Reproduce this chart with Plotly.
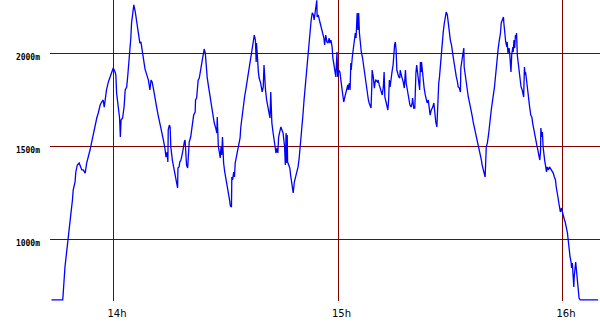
import plotly.graph_objects as go

# time in minutes since midnight, altitude in metres
minutes = [
    823.3, 826.3, 826.4, 826.6, 826.9, 827.2, 827.5, 827.8, 828.2, 828.5, 828.9, 829.1, 829.6, 829.8,
    830.2, 830.7, 831.1, 831.4, 831.8, 832.3, 832.7, 833.1, 833.6, 834.0, 834.5, 834.9, 835.4, 835.8,
    836.3, 836.7, 837.1, 837.4, 837.7, 838.0, 838.5, 838.9, 839.4, 839.8, 840.3, 840.5, 840.7, 841.0,
    841.3, 841.5, 841.7, 841.9, 842.3, 842.7, 843.0, 843.4, 843.7, 844.0, 844.3, 844.5, 844.7, 845.0,
    845.3, 845.7, 846.1, 846.4, 846.8, 846.9, 847.2, 847.5, 847.8, 848.3, 849.2, 849.6, 849.9, 850.2,
    850.6, 851.0, 851.4, 851.8, 852.3, 852.8, 853.2, 853.6, 853.9, 854.2, 854.4, 854.5, 854.8, 855.0,
    855.2, 855.6, 856.0, 856.3, 856.6, 856.8, 857.0, 857.1, 857.4, 857.6, 857.9, 858.3, 858.5, 858.8,
    859.0, 859.2, 859.4, 859.7, 859.9, 860.1, 860.5, 860.8, 861.0, 861.3, 861.7, 861.8, 862.1, 862.4,
    862.5, 862.8, 863.1, 863.4, 863.7, 864.0, 864.1, 864.4, 864.6, 864.9, 865.2, 865.6, 865.9, 866.3,
    866.5, 866.8, 867.2, 867.5, 867.6, 867.7, 867.9, 868.2, 868.4, 868.6, 868.8, 869.0, 869.1, 869.3,
    869.6, 869.9, 870.1, 870.4, 870.7, 870.9, 871.1, 871.4, 871.5, 871.7, 872.0, 872.2, 872.4, 872.8,
    873.1, 873.7, 873.9, 874.2, 874.6, 874.9, 875.3, 875.6, 876.0, 876.4, 876.7, 877.0, 877.2, 877.5,
    877.8, 878.0, 878.1, 878.3, 878.6, 878.8, 879.2, 879.6, 879.9, 880.1, 880.3, 880.5, 880.8, 881.2,
    881.5, 881.7, 881.9, 882.0, 882.2, 882.5, 882.8, 883.0, 883.3, 883.6, 883.8, 884.0, 884.3, 884.6,
    884.9, 885.2, 885.4, 885.6, 885.8, 886.0, 886.2, 886.3, 886.4, 886.7, 887.0, 887.2, 887.5, 887.8,
    887.9, 888.2, 888.5, 888.8, 889.2, 889.5, 889.7, 890.0, 890.3, 890.5, 890.8, 891.1, 891.3, 891.7,
    891.9, 892.2, 892.5, 892.7, 893.0, 893.3, 893.5, 893.7, 894.0, 894.2, 894.3, 894.6, 894.9, 895.1,
    895.4, 895.8, 896.1, 896.3, 896.6, 896.9, 897.2, 897.5, 897.7, 898.0, 898.3, 898.5, 898.8, 899.1,
    899.3, 899.6, 899.8, 900.1, 900.4, 900.7, 900.9, 901.1, 901.4, 901.7, 901.9, 902.2, 902.5, 902.6,
    902.9, 903.1, 903.3, 903.4, 903.7, 904.0, 904.2, 904.5, 904.7, 904.9, 905.0, 905.2, 905.4, 905.6,
    905.8, 906.1, 906.4, 906.6, 906.9, 907.2, 907.4, 907.7, 908.0, 908.2, 908.5, 908.7, 908.9, 909.0,
    909.3, 909.6, 909.8, 910.0, 910.4, 910.6, 910.9, 911.2, 911.4, 911.7, 912.0, 912.2, 912.4, 912.7,
    913.0, 913.2, 913.4, 913.6, 913.8, 914.0, 914.3, 914.6, 914.8, 915.0, 915.2, 915.4, 915.6, 915.8,
    916.1, 916.4, 916.5, 916.8, 917.1, 917.3, 917.6, 917.9, 918.1, 918.3, 918.6, 918.9, 919.1, 919.4,
    919.7, 919.8, 920.1, 920.4, 920.5, 920.7, 920.9, 921.2, 921.4, 921.7, 921.9, 922.1, 922.2, 922.4,
    922.7, 922.9, 923.2, 923.5, 923.7, 924.0, 924.2, 924.5, 924.8, 925.2, 925.5, 925.7, 926.0, 926.3,
    926.4, 926.6, 926.8, 927.0, 927.2, 927.5, 927.8, 928.0, 928.3, 928.6, 928.8, 929.1, 929.4, 929.6,
    929.9, 930.2, 930.4, 930.7, 931.0, 931.2, 931.5, 931.8, 932.0, 932.3, 932.6, 932.7, 932.9, 933.2,
    933.5, 933.6, 933.9, 934.2, 934.4, 934.7, 935.0, 935.2, 935.5, 935.8, 936.0, 936.3, 936.6, 936.8,
    937.1, 937.4, 937.6, 937.9, 938.2, 938.4, 938.7, 939.0, 939.2, 939.5, 939.8, 940.1, 940.3, 940.6,
    940.9, 941.1, 941.4, 941.7, 941.9, 942.2, 942.5, 942.7, 943.0, 943.3, 943.5, 943.8, 944.1, 944.2,
    944.4, 944.7, 945.0, 945.1, 945.3, 945.6, 945.8, 945.9, 946.1, 946.3, 946.6, 946.7, 946.9, 947.1,
    947.3, 947.5, 947.6, 947.8, 948.1, 948.3, 948.5, 948.8, 949.1, 949.3, 949.5, 949.7, 949.9, 950.0,
    950.2, 950.4, 950.6, 950.8, 951.1, 951.4, 951.7, 951.9, 952.2, 952.5, 952.7, 953.0, 953.3, 953.5,
    953.8, 954.0, 954.1, 954.3, 954.5, 954.7, 954.9, 955.1, 955.4, 955.6, 955.8, 956.1, 956.4, 956.6,
    956.9, 957.2, 957.4, 957.7, 958.0, 958.2, 958.5, 958.7, 958.9, 959.0, 959.3, 959.6, 959.8, 960.1,
    960.4, 960.6, 960.9, 961.2, 961.4, 961.6, 961.9, 962.2, 962.3, 962.5, 962.7, 962.9, 963.0, 963.2,
    963.4, 963.6, 963.8, 963.9, 964.1, 964.3, 964.6, 969.4,
]

altitude = [
    674, 674, 701, 797, 851, 905, 969, 1012, 1088, 1141, 1211, 1265, 1308, 1362,
    1399, 1410, 1389, 1373, 1373, 1356, 1410, 1437, 1480, 1518, 1571, 1614, 1652, 1679,
    1722, 1738, 1749, 1711, 1765, 1803, 1846, 1867, 1899, 1921, 1899, 1883, 1786, 1738,
    1711, 1652, 1550, 1641, 1652, 1711, 1803, 1819, 1883, 1948, 2007, 2082, 2163, 2222,
    2260, 2222, 2179, 2125, 2071, 2055, 2061, 2018, 2002, 1915, 1856, 1803, 1856, 1846,
    1803, 1765, 1711, 1668, 1625, 1577, 1534, 1491, 1442, 1469, 1416, 1588, 1614, 1604,
    1496, 1426, 1383, 1346, 1319, 1292, 1276, 1383, 1389, 1416, 1426, 1464, 1496, 1523,
    1534, 1453, 1399, 1383, 1518, 1523, 1550, 1598, 1631, 1668, 1684, 1749, 1760, 1813,
    1856, 1867, 1910, 1953, 1975, 2007, 2023, 2002, 1926, 1873, 1830, 1776, 1733, 1684,
    1652, 1625, 1598, 1571, 1657, 1550, 1496, 1464, 1437, 1496, 1453, 1550, 1453, 1410,
    1362, 1330, 1303, 1265, 1238, 1211, 1179, 1174, 1335, 1319, 1362, 1335, 1410, 1453,
    1496, 1545, 1604, 1657, 1711, 1765, 1813, 1856, 1910, 1948, 2002, 2055, 2082, 2098,
    2071, 1953, 2055, 1953, 1899, 1867, 1840, 1792, 1819, 1937, 1856, 1803, 1749, 1711,
    1679, 1652, 1792, 1711, 1625, 1577, 1534, 1496, 1464, 1491, 1464, 1550, 1588, 1604,
    1588, 1571, 1534, 1496, 1399, 1571, 1410, 1561, 1416, 1399, 1383, 1346, 1303, 1265,
    1249, 1308, 1335, 1362, 1389, 1437, 1480, 1518, 1604, 1668, 1749, 1819, 1894, 1953,
    2018, 2082, 2141, 2179, 2217, 2206, 2179, 2206, 2233, 2285, 2195, 2206, 2179, 2163,
    2136, 2109, 2082, 2045, 2098, 2061, 2055, 2082, 2055, 2071, 2034, 1975, 1937, 1921,
    1873, 2007, 1873, 1910, 1899, 1846, 1803, 1760, 1738, 1765, 1786, 1813, 1830, 1803,
    1840, 1803, 1948, 1910, 1980, 2034, 2071, 2109, 2082, 2136, 2217, 2125, 2217, 2109,
    2055, 2007, 1980, 1948, 1926, 1873, 1819, 1776, 1749, 1733, 1711, 1706, 1819, 1910,
    1873, 1813, 1846, 1856, 1846, 1856, 1830, 1813, 1803, 1776, 1819, 1899, 1765, 1733,
    1711, 1695, 1749, 1856, 1819, 1867, 1899, 1937, 2002, 2045, 2061, 2018, 1910, 1894,
    1873, 1867, 1910, 1883, 1867, 1846, 1813, 1910, 1840, 1813, 1776, 1749, 1722, 1711,
    1733, 1760, 1706, 1706, 1786, 1894, 1937, 1894, 1840, 1803, 1953, 1899, 1953, 1899,
    1856, 1813, 1776, 1749, 1733, 1749, 1711, 1668, 1695, 1711, 1733, 1668, 1631, 1604,
    1668, 1765, 1840, 1873, 1926, 1991, 2055, 2114, 2163, 2195, 2222, 2206, 2152, 2109,
    2071, 2045, 2007, 1975, 1937, 1899, 1873, 1846, 1819, 1813, 1792, 1921, 1953, 2002,
    2028, 1926, 1873, 1840, 1803, 1765, 1738, 1711, 1684, 1657, 1631, 1604, 1577, 1550,
    1534, 1507, 1480, 1453, 1426, 1399, 1373, 1346, 1335, 1496, 1518, 1561, 1588, 1652,
    1706, 1749, 1776, 1819, 1867, 1910, 1980, 2028, 2071, 2109, 2163, 2179, 2195, 2163,
    2109, 2061, 2034, 2061, 2002, 2028, 1991, 1937, 1899, 1991, 2034, 2007, 2071, 2028,
    2098, 2082, 2109, 1991, 1937, 1883, 1873, 1819, 1803, 1786, 1765, 1926, 1883, 1899,
    1867, 1830, 1786, 1738, 1711, 1668, 1657, 1625, 1588, 1561, 1534, 1507, 1480, 1453,
    1426, 1469, 1598, 1550, 1577, 1496, 1453, 1426, 1389, 1362, 1389, 1373, 1389, 1383,
    1373, 1362, 1356, 1335, 1319, 1281, 1254, 1222, 1195, 1174, 1147, 1168, 1147, 1120,
    1104, 1093, 1066, 1034, 996, 953, 905, 873, 846, 873, 819, 744, 797, 873,
    878, 835, 797, 781, 727, 684, 674, 674,
]

hour_ticks = [840, 900, 960]
hour_labels = ["14h", "15h", "16h"]
alt_ticks = [1000, 1500, 2000]
alt_labels = ["1000m", "1500m", "2000m"]

fig = go.Figure(
    go.Scatter(
        x=minutes,
        y=altitude,
        mode="lines",
        line=dict(color="#0000ff", width=1.3),
        hoverinfo="skip",
    )
)

fig.update_layout(
    width=600,
    height=330,
    margin=dict(l=50, r=0, t=0, b=29),
    paper_bgcolor="white",
    plot_bgcolor="white",
    showlegend=False,
)

fig.update_xaxes(
    range=[822.9, 969.9],
    tickvals=hour_ticks,
    ticktext=hour_labels,
    showgrid=True,
    gridcolor="#800000",
    gridwidth=1,
    zeroline=False,
    showline=False,
    ticks="",
    tickfont=dict(family="DejaVu Sans", size=10, color="black"),
    ticklabelshift=3,
    ticklabelstandoff=5,
)

fig.update_yaxes(
    range=[668.3, 2286.5],
    tickvals=alt_ticks,
    ticktext=["<b>" + t + "</b>" for t in alt_labels],
    showgrid=True,
    gridcolor="#800000",
    gridwidth=1,
    zeroline=False,
    showline=False,
    ticks="",
    tickfont=dict(family="DejaVu Sans Mono", size=8, color="black"),
    ticklabelshift=4,
    ticklabelstandoff=9,
)

fig.write_html("out.html")
